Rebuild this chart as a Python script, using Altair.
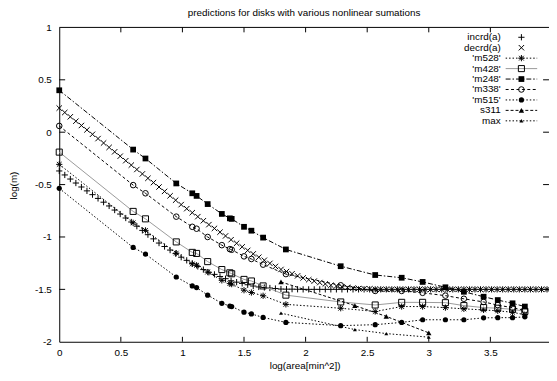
import altair as alt
import pandas as pd

TITLE = "predictions for disks with various nonlinear sumations"
X_TITLE = "log(area[min^2])"
Y_TITLE = "log(m)"
FONT = "Liberation Sans"

x_ticks = [0, 0.5, 1, 1.5, 2, 2.5, 3, 3.5]
y_ticks = [-2, -1.5, -1, -0.5, 0, 0.5, 1]
inner_x_ticks = [0.5, 1, 1.5, 2, 2.5, 3, 3.5]
inner_y_ticks = [-1.5, -1, -0.5, 0, 0.5]
X_MAX = 3.976

# dense series (incrd / decrd) share this x grid
grid_x = [0.000, 0.045, 0.090, 0.135, 0.180, 0.225, 0.270, 0.315, 0.360, 0.405,
          0.450, 0.495, 0.540, 0.585, 0.630, 0.675, 0.720, 0.765, 0.810, 0.855,
          0.900, 0.945, 0.990, 1.035, 1.080, 1.125, 1.170, 1.215, 1.260, 1.305,
          1.350, 1.395, 1.440, 1.485, 1.530, 1.575, 1.620, 1.665, 1.710, 1.755,
          1.800, 1.845, 1.890, 1.935, 1.980, 2.025, 2.070, 2.115, 2.160, 2.205,
          2.250, 2.295, 2.340, 2.385, 2.430, 2.475, 2.520, 2.565, 2.610, 2.655,
          2.700, 2.745, 2.790, 2.835, 2.880, 2.925, 2.970, 3.015, 3.060, 3.105,
          3.150, 3.195, 3.240, 3.285, 3.330, 3.375, 3.420, 3.465, 3.510, 3.555,
          3.600, 3.645, 3.690, 3.735, 3.780, 3.825, 3.870, 3.915, 3.960]

incrd_y = [-0.370, -0.408, -0.447, -0.485, -0.523, -0.560, -0.596, -0.632, -0.668, -0.704,
           -0.743, -0.781, -0.819, -0.857, -0.897, -0.937, -0.978, -1.018, -1.058, -1.091,
           -1.125, -1.159, -1.193, -1.223, -1.252, -1.281, -1.311, -1.337, -1.357, -1.377,
           -1.398, -1.418, -1.431, -1.443, -1.456, -1.468, -1.477, -1.482, -1.487, -1.492,
           -1.497, -1.498, -1.498, -1.499, -1.500, -1.500, -1.500, -1.500, -1.500, -1.500,
           -1.500, -1.500, -1.500, -1.500, -1.500, -1.500, -1.500, -1.500, -1.500, -1.500,
           -1.500, -1.500, -1.500, -1.500, -1.500, -1.500, -1.500, -1.500, -1.500, -1.500,
           -1.500, -1.500, -1.500, -1.500, -1.500, -1.500, -1.500, -1.500, -1.500, -1.500,
           -1.500, -1.500, -1.500, -1.500, -1.500, -1.500, -1.500, -1.500, -1.500]

decrd_y = [0.230, 0.188, 0.147, 0.105, 0.064, 0.022, -0.020, -0.061, -0.103, -0.145,
           -0.187, -0.229, -0.272, -0.314, -0.356, -0.398, -0.440, -0.481, -0.523, -0.565,
           -0.607, -0.649, -0.691, -0.730, -0.768, -0.806, -0.845, -0.882, -0.918, -0.954,
           -0.990, -1.026, -1.060, -1.094, -1.128, -1.161, -1.193, -1.222, -1.252, -1.281,
           -1.310, -1.330, -1.351, -1.371, -1.391, -1.408, -1.421, -1.435, -1.448, -1.461,
           -1.468, -1.474, -1.481, -1.488, -1.492, -1.494, -1.496, -1.499, -1.500, -1.500,
           -1.500, -1.500, -1.500, -1.500, -1.500, -1.500, -1.500, -1.500, -1.500, -1.500,
           -1.500, -1.500, -1.500, -1.500, -1.500, -1.500, -1.500, -1.500, -1.500, -1.500,
           -1.500, -1.500, -1.500, -1.500, -1.500, -1.500, -1.500, -1.500, -1.500]

# model series share this x grid
m_x = [0.000, 0.600, 0.700, 0.950, 1.080, 1.115, 1.205, 1.320, 1.385, 1.400,
       1.500, 1.560, 1.655, 1.840, 2.285, 2.565, 2.780, 2.950, 3.135, 3.285,
       3.445, 3.560, 3.680, 3.780]
m528_y = [-0.307, -0.865, -0.937, -1.154, -1.257, -1.270, -1.335, -1.414, -1.445, -1.450,
          -1.508, -1.530, -1.561, -1.643, -1.680, -1.711, -1.664, -1.664, -1.674, -1.686,
          -1.696, -1.705, -1.718, -1.743]
m428_y = [-0.190, -0.756, -0.827, -1.047, -1.147, -1.157, -1.235, -1.311, -1.342, -1.351,
          -1.405, -1.420, -1.467, -1.555, -1.620, -1.649, -1.624, -1.624, -1.627, -1.655,
          -1.674, -1.680, -1.690, -1.710]
m248_y = [0.400, -0.166, -0.251, -0.489, -0.583, -0.608, -0.686, -0.780, -0.822, -0.827,
          -0.903, -0.940, -1.006, -1.119, -1.279, -1.363, -1.389, -1.429, -1.480, -1.523,
          -1.570, -1.602, -1.633, -1.664]
m338_y = [0.060, -0.505, -0.583, -0.806, -0.903, -0.921, -1.000, -1.078, -1.116, -1.122,
          -1.185, -1.210, -1.264, -1.354, -1.461, -1.515, -1.515, -1.533, -1.560, -1.590,
          -1.620, -1.650, -1.675, -1.700]
m515_y = [-0.536, -1.100, -1.163, -1.382, -1.467, -1.483, -1.555, -1.633, -1.659, -1.664,
          -1.718, -1.734, -1.768, -1.815, -1.846, -1.837, -1.815, -1.790, -1.790, -1.790,
          -1.772, -1.770, -1.770, -1.762]

s_x = [1.800, 2.400, 2.655, 3.000]
s311_y = [-1.429, -1.655, -1.758, -1.915]
max_y = [-1.727, -1.884, -1.922, -1.956]

labels = ["incrd(a)", "decrd(a)", "'m528'", "'m428'", "'m248'", "'m338'", "'m515'", "s311", "max"]

PLUS = "M-1,0L1,0M0,-1L0,1"
CROSS = "M-1,-1L1,1M-1,1L1,-1"
STAR = "M-1,0L1,0M0,-1L0,1M-0.75,-0.75L0.75,0.75M-0.75,0.75L0.75,-0.75"

styles = [
    # (xs, ys, shape, filled, size, dash, line color)
    (grid_x, incrd_y, PLUS, False, 40, None, None),
    (grid_x, decrd_y, CROSS, False, 30, None, None),
    (m_x, m528_y, STAR, False, 40, [1.5, 2], "black"),
    (m_x, m428_y, "square", False, 38, [], "#999999"),
    (m_x, m248_y, "square", True, 34, [5, 2, 1.5, 2], "black"),
    (m_x, m338_y, "circle", False, 32, [3, 2.5], "black"),
    (m_x, m515_y, "circle", True, 28, [1.5, 2], "black"),
    (s_x, s311_y, "triangle-up", True, 30, [3, 2], "black"),
    (s_x, max_y, "triangle-up", True, 16, [1.5, 2], "black"),
]

xscale = alt.Scale(domain=[0, X_MAX], nice=False, zero=False)
yscale = alt.Scale(domain=[-2, 1], nice=False, zero=False)

xaxis = alt.Axis(values=x_ticks, labelExpr="toString(datum.value)", ticks=False, grid=False,
                 domain=True, domainColor="black", domainWidth=1, labelFlush=False,
                 labelOverlap=False, labelFont=FONT, labelFontSize=10, labelColor="black",
                 labelPadding=6, title=X_TITLE, titleFont=FONT, titleFontSize=10,
                 titleFontWeight="normal", titleColor="black", titleX=249, titleY=24,
                 titleAlign="center", titleBaseline="middle")
yaxis = alt.Axis(values=y_ticks, labelExpr="toString(datum.value)", ticks=False, grid=False,
                 domain=True, domainColor="black", domainWidth=1, labelFlush=False,
                 labelOverlap=False, labelFont=FONT, labelFontSize=10, labelColor="black",
                 labelPadding=8, title=Y_TITLE, titleFont=FONT, titleFontSize=10,
                 titleFontWeight="normal", titleColor="black", titleX=-46, titleY=160,
                 titleAngle=270, titleAlign="center", titleBaseline="middle")

X = lambda: alt.X("x:Q", scale=xscale, axis=xaxis)
Y = lambda: alt.Y("y:Q", scale=yscale, axis=yaxis)

layers = []

# frame top border and inward ticks
top_df = pd.DataFrame({"x": [0], "x2": [X_MAX], "y": [1]})
layers.append(alt.Chart(top_df).mark_rule(color="black", strokeWidth=1).encode(
    x=X(), x2="x2:Q", y=Y()))
xt_df = pd.DataFrame({"x": inner_x_ticks})
layers.append(alt.Chart(xt_df).mark_rule(color="black", strokeWidth=1).encode(
    x=X(), y=alt.datum(-2, scale=yscale), y2=alt.datum(-2 + 0.047)))
layers.append(alt.Chart(xt_df).mark_rule(color="black", strokeWidth=1).encode(
    x=X(), y=alt.datum(1, scale=yscale), y2=alt.datum(1 - 0.047)))
yt_df = pd.DataFrame({"y": inner_y_ticks})
layers.append(alt.Chart(yt_df).mark_rule(color="black", strokeWidth=1).encode(
    y=Y(), x=alt.datum(0, scale=xscale), x2=alt.datum(0.048)))
layers.append(alt.Chart(yt_df).mark_rule(color="black", strokeWidth=1).encode(
    y=Y(), x=alt.datum(X_MAX - 0.048, scale=xscale), x2=alt.datum(X_MAX)))

LEG_TEXT_X = 448
LEG_LINE_X1 = 453
LEG_LINE_X2 = 485
LEG_SYM_X = 469

for i, (lab, (xs, ys, shape, filled, size, dash, lcol)) in enumerate(zip(labels, styles)):
    df = pd.DataFrame({"x": xs, "y": ys, "series": lab})
    leg = pd.DataFrame({"label": [lab], "py": [10 + 10.6 * i]})
    ly = alt.Y("py:Q", scale=None, axis=None)
    if lcol is not None:
        kw = dict(color=lcol, strokeWidth=1)
        if dash:
            kw["strokeDash"] = dash
        layers.append(alt.Chart(df).mark_line(**kw).encode(x=X(), y=Y()))
        layers.append(alt.Chart(leg).mark_rule(**kw).encode(
            x=alt.value(LEG_LINE_X1), x2=alt.value(LEG_LINE_X2), y=ly))
    pkw = dict(shape=shape, size=size, filled=filled, strokeWidth=1, opacity=1)
    if filled:
        pkw.update(color="black", fill="black")
    else:
        pkw.update(stroke="black", color="black")
    layers.append(alt.Chart(df).mark_point(**pkw).encode(x=X(), y=Y()))
    layers.append(alt.Chart(leg).mark_point(**pkw).encode(x=alt.value(LEG_SYM_X), y=ly))
    layers.append(alt.Chart(leg).mark_text(align="right", baseline="middle", font=FONT,
                                           fontSize=10, color="black").encode(
        x=alt.value(LEG_TEXT_X), y=ly, text="label:N"))

chart = alt.layer(*layers).properties(
    width=497, height=319,
    title=alt.TitleParams(TITLE, font=FONT, fontSize=10, fontWeight="normal", color="black",
                          anchor="middle", offset=5),
    autosize=alt.AutoSizeParams(type="none"),
    padding={"left": 52, "top": 17, "right": 0, "bottom": 29},
).configure_view(stroke=None)

chart.save("out.html", embed_options={"renderer": "svg", "actions": False})
